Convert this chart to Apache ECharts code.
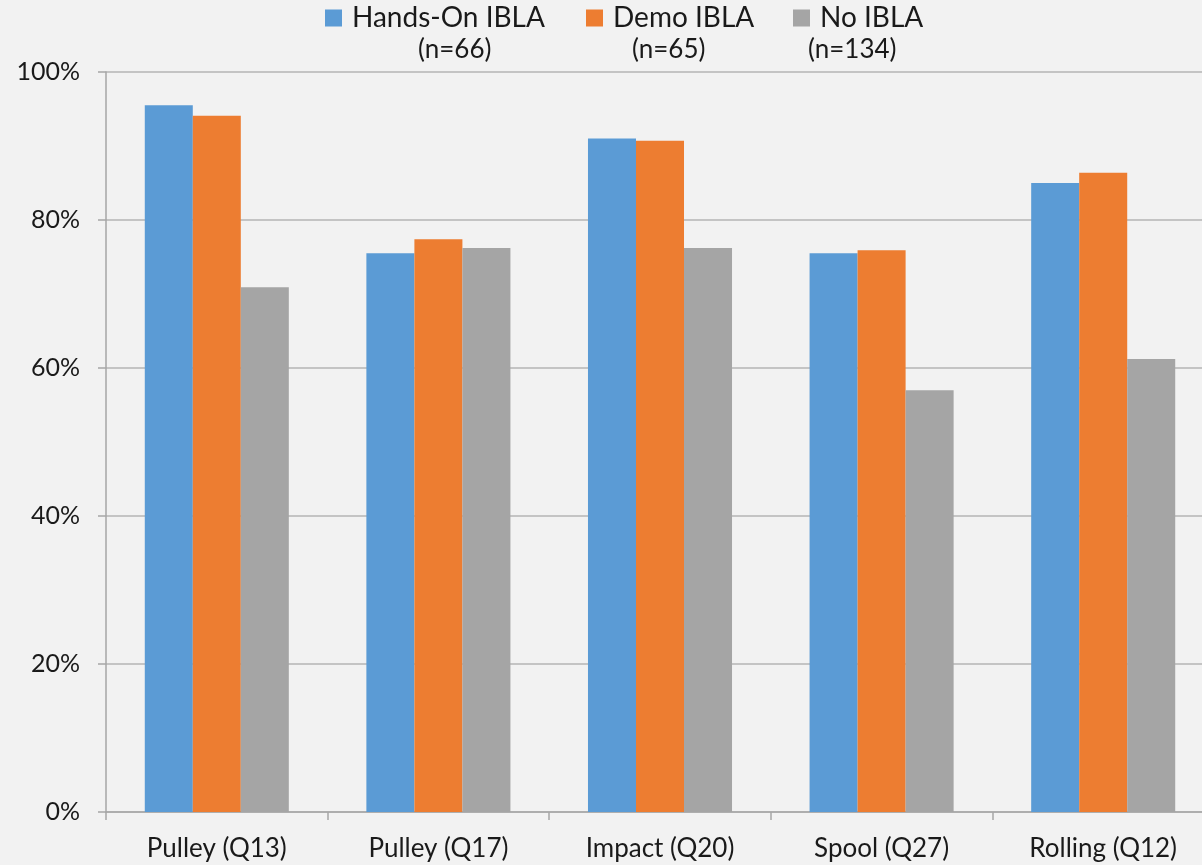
<!DOCTYPE html>
<html>
<head>
<meta charset="utf-8">
<script src="https://cdn.jsdelivr.net/npm/echarts@6/dist/echarts.min.js"></script>
<style>
  html, body { margin: 0; padding: 0; background: #f2f2f2; overflow: hidden; }
  #chart { width: 1202px; height: 865px; }
</style>
</head>
<body>
<div id="chart"></div>
<script>
// Share of correct answers per question, by instruction group
const categories = ['Pulley (Q13)', 'Pulley (Q17)', 'Impact (Q20)', 'Spool (Q27)', 'Rolling (Q12)'];
const handsOn = [95.5, 75.5, 91.0, 75.5, 85.0];
const demo    = [94.1, 77.4, 90.7, 75.9, 86.4];
const noIbla  = [70.9, 76.2, 76.2, 57.0, 61.2];
const seriesNames = ['Hands-On IBLA', 'Demo IBLA', 'No IBLA'];
const sampleSizes = ['(n=66)', '(n=65)', '(n=134)'];
const yTicks = [0, 20, 40, 60, 80, 100];

const colors = ['#5b9bd5', '#ed7d31', '#a5a5a5'];
const FONT = 'Lato, "Open Sans", sans-serif';

const legendLeft = [325, 586, 793];
const sampleLeft = [418, 632, 808];

const chart = echarts.init(document.getElementById('chart'), null, { renderer: 'canvas' });

const seriesData = [handsOn, demo, noIbla];

chart.setOption({
  backgroundColor: '#f2f2f2',
  animation: false,
  color: colors,
  textStyle: { fontFamily: FONT },
  // one legend block per group so each sits above its sample size
  legend: seriesNames.map((name, i) => ({
    top: 4,
    left: legendLeft[i],
    padding: 0,
    itemWidth: 17,
    itemHeight: 17,
    icon: 'rect',
    textStyle: { fontSize: 28, color: '#1a1a1a', fontFamily: FONT, padding: [0, 0, 0, 5] },
    data: [name]
  })),
  graphic: sampleSizes.map((t, i) => ({
    type: 'text',
    left: sampleLeft[i],
    top: 37,
    style: { text: t, font: '26px ' + FONT, fill: '#1a1a1a' }
  })),
  // plot runs a little past the right edge of the canvas
  grid: { left: 106, width: 1108, top: 72, bottom: 53, outerBoundsMode: 'none', containLabel: false },
  xAxis: {
    type: 'category',
    data: categories,
    axisLine: { show: true, lineStyle: { color: '#a6a6a6', width: 1.5 } },
    axisTick: { show: true, length: 8, lineStyle: { color: '#a6a6a6', width: 1.5 } },
    axisLabel: { fontSize: 26, color: '#1a1a1a', margin: 24, fontFamily: FONT }
  },
  yAxis: {
    type: 'value',
    min: yTicks[0],
    max: yTicks[yTicks.length - 1],
    interval: 20,
    axisLine: { show: true, lineStyle: { color: '#a6a6a6', width: 1.5 } },
    axisTick: { show: true, length: 8, lineStyle: { color: '#a6a6a6', width: 1.5 } },
    splitLine: { show: true, lineStyle: { color: '#c4c4c4', width: 2 } },
    axisLabel: { fontSize: 25, color: '#1a1a1a', margin: 26, formatter: v => v + '%', fontFamily: FONT }
  },
  series: seriesNames.map((name, i) => ({
    name,
    type: 'bar',
    data: seriesData[i],
    barGap: '0%',
    barCategoryGap: '35%',
    itemStyle: { color: colors[i] }
  }))
});
</script>
</body>
</html>
